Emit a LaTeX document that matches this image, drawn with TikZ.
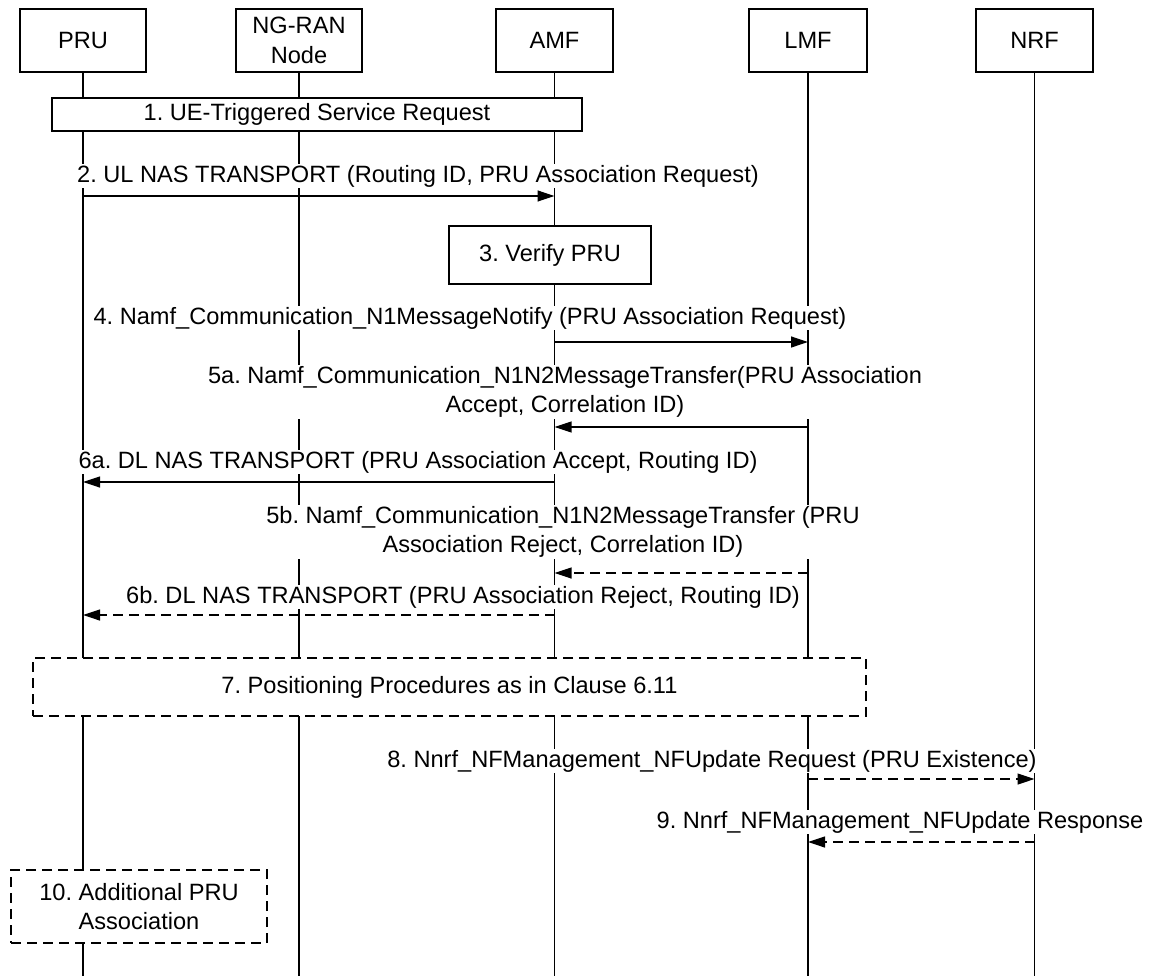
\documentclass[tikz,border=0pt]{standalone}
\usepackage{fontspec}
\setmainfont{Liberation Sans}
\usetikzlibrary{arrows.meta}

\tikzset{
  head/.style={draw, fill=white, minimum height=63pt, align=center},
  stepbox/.style={draw, fill=white, align=center},
  dashbox/.style={stepbox, dash pattern=on 10pt off 6pt},
  lbl/.style={fill=white, inner sep=1pt, align=center},
  msg/.style={-{Triangle[length=17pt,width=11pt]}},
  rsp/.style={msg, dash pattern=on 10pt off 6pt}
}

\begin{document}
\frenchspacing
\begin{tikzpicture}[x=1pt,y=-1pt,line width=1.2pt,font=\fontsize{23.6}{29.5}\selectfont]
\useasboundingbox (0,0) rectangle (1161,976);
% entities
\node[head, minimum width=126pt] (pru) at (83,40.5) {PRU};
\node[head, minimum width=126pt] (ran) at (299,40.5) {NG-RAN\\Node};
\node[head, minimum width=117pt] (amf) at (554.5,40.5) {AMF};
\node[head, minimum width=118pt] (lmf) at (808,40.5) {LMF};
\node[head, minimum width=117pt] (nrf) at (1034.5,40.5) {NRF};
\foreach \n in {pru,ran,amf,lmf,nrf} {
\draw (\n.south) -- (\n.south |- 0,976);
}
% message labels
\node[lbl] (l2) at (418,176) {2. UL NAS TRANSPORT (Routing ID, PRU Association Request)};
\node[lbl] (l4) at (470,318) {4. Namf\_Communication\_N1MessageNotify (PRU Association Request)};
\node[lbl] (l5a) at (565,392) {5a. Namf\_Communication\_N1N2MessageTransfer(PRU Association\\Accept, Correlation ID)};
\node[lbl] (l6a) at (418,462) {6a. DL NAS TRANSPORT (PRU Association Accept, Routing ID)};
\node[lbl] (l5b) at (563,532) {5b. Namf\_Communication\_N1N2MessageTransfer (PRU\\Association Reject, Correlation ID)};
\node[lbl] (l6b) at (463,597) {6b. DL NAS TRANSPORT (PRU Association Reject, Routing ID)};
\node[lbl] (l8) at (712,761) {8. Nnrf\_NFManagement\_NFUpdate Request (PRU Existence)};
\node[lbl] (l9) at (900,822) {9. Nnrf\_NFManagement\_NFUpdate Response};
% messages
\draw[msg] (pru |- 0,196) -- (amf |- 0,196);
\draw[msg] (amf |- 0,342) -- (lmf |- 0,342);
\draw[msg] (lmf |- 0,427) -- (amf |- 0,427);
\draw[msg] (amf |- 0,482) -- (pru |- 0,482);
\draw[rsp] (lmf |- 0,573) -- (amf |- 0,573);
\draw[rsp] (amf |- 0,615) -- (pru |- 0,615);
\draw[rsp] (lmf |- 0,779) -- (nrf |- 0,779);
\draw[rsp] (nrf |- 0,842) -- (lmf |- 0,842);
% procedure boxes
\node[stepbox, minimum width=530pt, minimum height=33pt] (s1) at (317,114.5) {1. UE-Triggered Service Request};
\node[stepbox, minimum width=202pt, minimum height=58pt] (s3) at (550,255) {3. Verify PRU};
\node[dashbox, minimum width=833pt, minimum height=58pt] (s7) at (449.5,687) {7. Positioning Procedures as in Clause 6.11};
\node[dashbox, minimum width=256pt, minimum height=73pt] (s10) at (139,906.5) {10. Additional PRU\\Association};
\end{tikzpicture}
\end{document}
